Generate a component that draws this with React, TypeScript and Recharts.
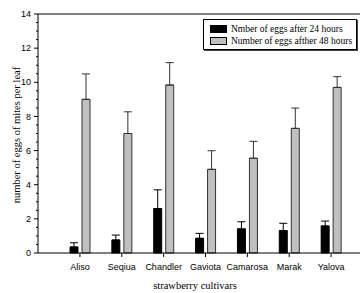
import React from 'react';
import { BarChart, Bar, XAxis, YAxis, ErrorBar, ReferenceLine } from 'recharts';

const categories = ['Aliso', 'Seqiua', 'Chandler', 'Gaviota', 'Camarosa', 'Marak', 'Yalova'];
const eggs24 = [0.35, 0.76, 2.6, 0.86, 1.41, 1.31, 1.58];
const err24 = [0.25, 0.29, 1.1, 0.29, 0.42, 0.43, 0.29];
const eggs48 = [9.0, 7.0, 9.84, 4.9, 5.55, 7.3, 9.7];
const err48 = [1.49, 1.27, 1.31, 1.09, 0.99, 1.19, 0.63];
const yTicks = Array.from({ length: 29 }, (_, i) => i * 0.5);
const series24Name = 'Nmber of eggs after 24 hours';
const series48Name = 'Number of eggs afther 48 hours';

const data = categories.map((c, i) => ({
  name: c,
  e24: eggs24[i],
  e24err: [0, err24[i]],
  e48: eggs48[i],
  e48err: [0, err48[i]],
}));

const SANS = '"Liberation Sans", Arial, sans-serif';
const SERIF = '"Liberation Serif", "Times New Roman", serif';

const YTick = (props: any) => {
  const { x, y, payload } = props;
  const v = payload.value;
  const major = Math.abs(v % 2) < 1e-6;
  return (
    <g>
      <line x1={x} x2={x - (major ? 4 : 2)} y1={y} y2={y} stroke="#000" strokeWidth={1} />
      {major && (
        <text x={x - 7} y={y} dy="0.35em" textAnchor="end" fontFamily={SANS} fontSize={9} fill="#000">
          {v}
        </text>
      )}
    </g>
  );
};

const legendItems = [
  { name: series24Name, fill: '#000' },
  { name: series48Name, fill: '#c0c0c0' },
];

const LegendBox = () => (
  <div
    style={{
      position: 'absolute',
      left: 203,
      top: 19,
      width: 152,
      height: 29,
      border: '1px solid #000',
      boxShadow: '1px 1px 0 #444',
      background: '#fff',
      fontFamily: SERIF,
      fontSize: 9.5,
      color: '#000',
    }}
  >
    {legendItems.map((it, i) => (
      <div key={i} style={{ position: 'absolute', left: 6, top: 4 + i * 12, height: 10, display: 'flex', alignItems: 'center', whiteSpace: 'nowrap' }}>
        <span style={{ display: 'inline-block', width: 15, height: 6, background: it.fill, border: '1px solid #000', marginRight: 4 }} />
        <span style={{ lineHeight: '10px' }}>{it.name}</span>
      </div>
    ))}
  </div>
);

export default function App() {
  return (
    <div style={{ position: 'absolute', left: 0, top: 0, width: 362, height: 293, background: '#fff' }}>
      <BarChart
        width={362}
        height={293}
        data={data}
        margin={{ top: 14, right: 2, left: 0, bottom: 0 }}
        barSize={8}
        barGap={4}
      >
        <XAxis
          dataKey="name"
          height={40}
          padding={{ left: 21, right: 8 }}
          axisLine={{ stroke: '#000' }}
          tickLine={{ stroke: '#000' }}
          tickSize={4}
          tickMargin={7}
          tick={{ fontFamily: SANS, fontSize: 9, fill: '#000' }}
          interval={0}
          label={{
            content: () => (
              <text x={195} y={289} textAnchor="middle" fontFamily={SERIF} fontSize={10.5} fill="#000">
                strawberry cultivars
              </text>
            ),
          }}
        />
        <YAxis
          width={38}
          domain={[0, 14]}
          ticks={yTicks}
          interval={0}
          axisLine={{ stroke: '#000' }}
          tickLine={false}
          tickSize={0}
          tickMargin={0}
          tick={<YTick />}
          label={{
            content: () => (
              <text
                x={16}
                y={135}
                transform="rotate(-90 16 135)"
                textAnchor="middle"
                dy="0.35em"
                fontFamily={SERIF}
                fontSize={10.5}
                fill="#000"
              >
                number of eggs of mites per leaf
              </text>
            ),
          }}
        />
        <ReferenceLine y={14} stroke="#000" strokeWidth={1} ifOverflow="visible" />
        <Bar dataKey="e24" name={series24Name} fill="#000" stroke="#000" strokeWidth={1} isAnimationActive={false}>
          <ErrorBar dataKey="e24err" width={4} stroke="#000" strokeWidth={1} direction="y" />
        </Bar>
        <Bar dataKey="e48" name={series48Name} fill="#c0c0c0" stroke="#333" strokeWidth={1} isAnimationActive={false}>
          <ErrorBar dataKey="e48err" width={4} stroke="#333" strokeWidth={1} direction="y" />
        </Bar>
      </BarChart>
      <LegendBox />
    </div>
  );
}
